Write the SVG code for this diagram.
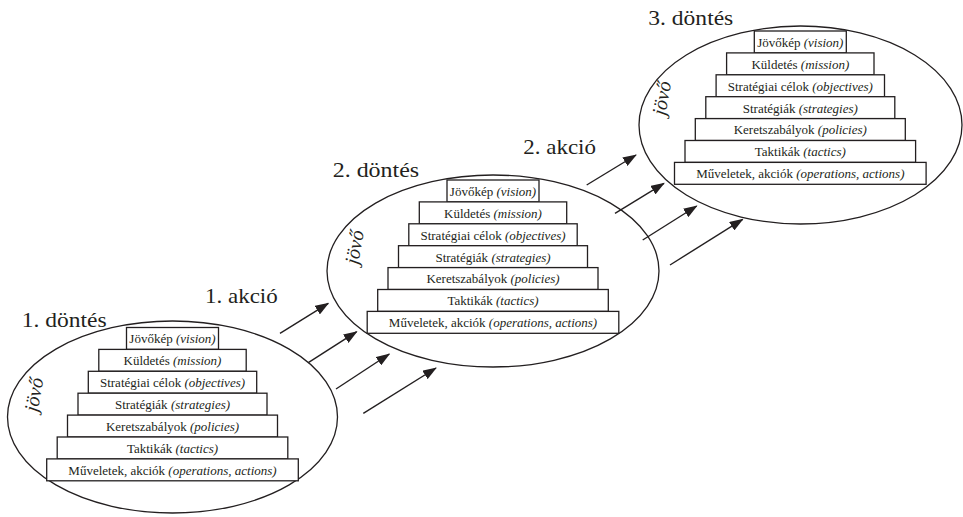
<svg xmlns="http://www.w3.org/2000/svg" width="963" height="517" viewBox="0 0 963 517">
  <style>
    .bg { fill: #ffffff; }
    .oval { fill: none; stroke: #231f20; stroke-width: 1.3; }
    .step { fill: #ffffff; stroke: #231f20; stroke-width: 1.3; }
    .lbl { font-family: "Liberation Serif", "Times New Roman", serif; font-size: 13px; fill: #231f20; text-anchor: middle; }
    .en { font-style: italic; }
    .future { font-family: "Liberation Serif", "Times New Roman", serif; font-size: 20px; font-style: italic; fill: #231f20; text-anchor: middle; }
    .title { font-family: "Liberation Serif", "Times New Roman", serif; font-size: 22px; fill: #231f20; }
    .arrow { stroke: #231f20; stroke-width: 1.4; fill: none; marker-end: url(#head); }
  </style>
  <defs>
    <marker id="head" viewBox="0 0 14 10" refX="13" refY="5" markerWidth="14" markerHeight="10" markerUnits="userSpaceOnUse" orient="auto">
      <path d="M0,0 L14,5 L0,10 Z" fill="#231f20"/>
    </marker>
  </defs>

  <rect class="bg" x="0" y="0" width="963" height="517"/>

  <!-- decision 1 -->
  <g id="decision1">
    <ellipse class="oval" cx="172.5" cy="417" rx="165" ry="96"/>
    <g transform="translate(172.5,327.5)">
      <rect class="step" x="-46" y="0" width="92" height="21.9"/>
      <rect class="step" x="-73.7" y="21.9" width="147.4" height="21.9"/>
      <rect class="step" x="-84.2" y="43.8" width="168.4" height="21.9"/>
      <rect class="step" x="-94.5" y="65.7" width="189" height="21.9"/>
      <rect class="step" x="-105" y="87.6" width="210" height="21.9"/>
      <rect class="step" x="-115.3" y="109.5" width="230.6" height="21.9"/>
      <rect class="step" x="-125.8" y="131.4" width="251.6" height="21.9"/>
      <text class="lbl" x="0" y="15.8">Jövőkép <tspan class="en">(vision)</tspan></text>
      <text class="lbl" x="0" y="37.7">Küldetés <tspan class="en">(mission)</tspan></text>
      <text class="lbl" x="0" y="59.6">Stratégiai célok <tspan class="en">(objectives)</tspan></text>
      <text class="lbl" x="0" y="81.5">Stratégiák <tspan class="en">(strategies)</tspan></text>
      <text class="lbl" x="0" y="103.4">Keretszabályok <tspan class="en">(policies)</tspan></text>
      <text class="lbl" x="0" y="125.3">Taktikák <tspan class="en">(tactics)</tspan></text>
      <text class="lbl" x="0" y="147.2">Műveletek, akciók <tspan class="en">(operations, actions)</tspan></text>
      <text class="future" transform="translate(-132,68.3) rotate(-80)">jövő</text>
    </g>
    <text class="title" x="21.7" y="326.7" textLength="85" lengthAdjust="spacingAndGlyphs">1. döntés</text>
  </g>

  <!-- decision 2 -->
  <g id="decision2">
    <ellipse class="oval" cx="493" cy="271" rx="166" ry="96"/>
    <g transform="translate(493,180)">
      <rect class="step" x="-46" y="0" width="92" height="21.9"/>
      <rect class="step" x="-73.7" y="21.9" width="147.4" height="21.9"/>
      <rect class="step" x="-84.2" y="43.8" width="168.4" height="21.9"/>
      <rect class="step" x="-94.5" y="65.7" width="189" height="21.9"/>
      <rect class="step" x="-105" y="87.6" width="210" height="21.9"/>
      <rect class="step" x="-115.3" y="109.5" width="230.6" height="21.9"/>
      <rect class="step" x="-125.8" y="131.4" width="251.6" height="21.9"/>
      <text class="lbl" x="0" y="15.8">Jövőkép <tspan class="en">(vision)</tspan></text>
      <text class="lbl" x="0" y="37.7">Küldetés <tspan class="en">(mission)</tspan></text>
      <text class="lbl" x="0" y="59.6">Stratégiai célok <tspan class="en">(objectives)</tspan></text>
      <text class="lbl" x="0" y="81.5">Stratégiák <tspan class="en">(strategies)</tspan></text>
      <text class="lbl" x="0" y="103.4">Keretszabályok <tspan class="en">(policies)</tspan></text>
      <text class="lbl" x="0" y="125.3">Taktikák <tspan class="en">(tactics)</tspan></text>
      <text class="lbl" x="0" y="147.2">Műveletek, akciók <tspan class="en">(operations, actions)</tspan></text>
      <text class="future" transform="translate(-132,68.3) rotate(-80)">jövő</text>
    </g>
    <text class="title" x="332.7" y="177.3" textLength="86.5" lengthAdjust="spacingAndGlyphs">2. döntés</text>
  </g>

  <!-- decision 3 -->
  <g id="decision3">
    <ellipse class="oval" cx="800.5" cy="125" rx="161.5" ry="99"/>
    <g transform="translate(800.3,31)">
      <rect class="step" x="-46" y="0" width="92" height="21.9"/>
      <rect class="step" x="-73.7" y="21.9" width="147.4" height="21.9"/>
      <rect class="step" x="-84.2" y="43.8" width="168.4" height="21.9"/>
      <rect class="step" x="-94.5" y="65.7" width="189" height="21.9"/>
      <rect class="step" x="-105" y="87.6" width="210" height="21.9"/>
      <rect class="step" x="-115.3" y="109.5" width="230.6" height="21.9"/>
      <rect class="step" x="-125.8" y="131.4" width="251.6" height="21.9"/>
      <text class="lbl" x="0" y="15.8">Jövőkép <tspan class="en">(vision)</tspan></text>
      <text class="lbl" x="0" y="37.7">Küldetés <tspan class="en">(mission)</tspan></text>
      <text class="lbl" x="0" y="59.6">Stratégiai célok <tspan class="en">(objectives)</tspan></text>
      <text class="lbl" x="0" y="81.5">Stratégiák <tspan class="en">(strategies)</tspan></text>
      <text class="lbl" x="0" y="103.4">Keretszabályok <tspan class="en">(policies)</tspan></text>
      <text class="lbl" x="0" y="125.3">Taktikák <tspan class="en">(tactics)</tspan></text>
      <text class="lbl" x="0" y="147.2">Műveletek, akciók <tspan class="en">(operations, actions)</tspan></text>
      <text class="future" transform="translate(-132,68.3) rotate(-80)">jövő</text>
    </g>
    <text class="title" x="648.3" y="25" textLength="85" lengthAdjust="spacingAndGlyphs">3. döntés</text>
  </g>

  <!-- action labels -->
  <g id="action1">
    <text class="title" x="205" y="303.3" textLength="72.7" lengthAdjust="spacingAndGlyphs">1. akció</text>
  </g>
  <g id="action2">
    <text class="title" x="523.3" y="154.3" textLength="72.7" lengthAdjust="spacingAndGlyphs">2. akció</text>
  </g>

  <!-- connectors -->
  <g id="connectors">
    <line class="arrow" x1="280" y1="333.3" x2="328.3" y2="303.3"/>
    <line class="arrow" x1="308.3" y1="362.7" x2="356.7" y2="331.7"/>
    <line class="arrow" x1="336" y1="389" x2="389.3" y2="354"/>
    <line class="arrow" x1="363.3" y1="413.3" x2="436" y2="368"/>
    <line class="arrow" x1="586.7" y1="185" x2="636" y2="155"/>
    <line class="arrow" x1="615" y1="213.3" x2="664" y2="183.3"/>
    <line class="arrow" x1="642.7" y1="240" x2="696.7" y2="206"/>
    <line class="arrow" x1="670" y1="265" x2="742.7" y2="219.3"/>
  </g>
</svg>
